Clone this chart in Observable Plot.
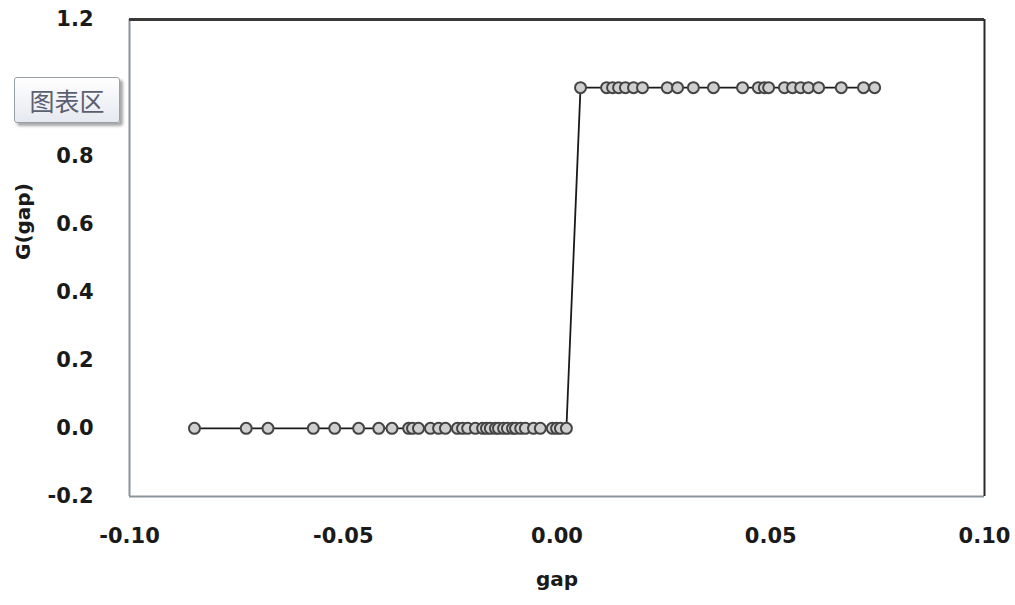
<!DOCTYPE html>
<html>
<head>
<meta charset="utf-8">
<script src="https://cdn.jsdelivr.net/npm/d3@7"></script>
<script src="https://cdn.jsdelivr.net/npm/@observablehq/plot@0.6"></script>
<style>
  html, body { margin: 0; padding: 0; background: #fff; }
  #wrap { position: relative; width: 1015px; height: 605px; overflow: hidden; }
  #tip {
    position: absolute; left: 14px; top: 77px; width: 106px; height: 46px;
    box-sizing: border-box; border: 1.5px solid #9aa0a8; border-radius: 3px;
    background: linear-gradient(#ffffff, #e6e9f0);
    box-shadow: 3px 3px 3px rgba(0,0,0,0.35);
    font-family: "Noto Sans CJK SC", sans-serif; font-size: 25px; color: #5a6070;
    line-height: 44px; text-align: center; letter-spacing: 0px;
  }
</style>
</head>
<body>
<div id="wrap"></div>
<script>
// gap values (x) and G(gap) values (y)
const gapLow = [-0.0848, -0.0727, -0.0676, -0.0570, -0.0520, -0.0464, -0.0417, -0.0386,
  -0.0347, -0.0338, -0.0324, -0.0296, -0.0277, -0.0261, -0.0233, -0.0221, -0.0209,
  -0.0191, -0.0174, -0.0165, -0.0156, -0.0144, -0.0137, -0.0125, -0.0116, -0.0104,
  -0.0097, -0.0085, -0.0074, -0.0055, -0.0039, -0.0011, -0.0001, 0.0008, 0.0022];
const gLow = gapLow.map(() => 0);
const gapHigh = [0.0055, 0.0116, 0.0130, 0.0144, 0.0160, 0.0179, 0.0200, 0.0258, 0.0282,
  0.0319, 0.0366, 0.0434, 0.0471, 0.0485, 0.0495, 0.0532, 0.0551, 0.0570, 0.0588,
  0.0612, 0.0665, 0.0717, 0.0743];
const gHigh = gapHigh.map(() => 1);
const xTicks = [-0.10, -0.05, 0.00, 0.05, 0.10];
// the 1.0 label is hidden behind the "图表区" popup in the reference
const yTicks = [-0.2, 0.0, 0.2, 0.4, 0.6, 0.8, 1.2];
const xTitle = "gap";
const yTitle = "G(gap)";
const popupLabel = "图表区";

const data = [
  ...gapLow.map((g, i) => ({gap: g, G: gLow[i]})),
  ...gapHigh.map((g, i) => ({gap: g, G: gHigh[i]}))
];

const chart = Plot.plot({
  width: 1015,
  height: 605,
  marginLeft: 129,
  marginRight: 31,
  marginTop: 19,
  marginBottom: 109,
  style: {fontFamily: "DejaVu Sans", fontSize: "21px", fontWeight: "bold", color: "#1a1a1a", background: "#fff"},
  x: {domain: [-0.1, 0.1]},
  y: {domain: [-0.2, 1.2]},
  marks: [
    Plot.axisX({ticks: xTicks, tickFormat: d => d.toFixed(2), tickSize: 0, tickPadding: 32, label: null}),
    Plot.axisY({ticks: yTicks, tickFormat: d => d.toFixed(1), tickSize: 0, tickPadding: 36, label: null}),
    Plot.ruleX([-0.1], {stroke: "#8c949c", strokeWidth: 2}),
    Plot.ruleY([-0.2], {stroke: "#8c949c", strokeWidth: 2}),
    Plot.ruleY([1.2], {stroke: "#3a3a3a", strokeWidth: 3}),
    Plot.ruleX([0.1], {stroke: "#2a2a2a", strokeWidth: 2}),
    Plot.line(data, {x: "gap", y: "G", stroke: "#1a1a1a", strokeWidth: 1.8}),
    Plot.dot(data, {x: "gap", y: "G", r: 5.5, stroke: "#444", strokeWidth: 2, fill: "#cfcfcf"}),
    Plot.text([xTitle], {text: d => d, frameAnchor: "bottom", dy: 89, fontSize: 20, fontWeight: "bold", fill: "#1a1a1a"}),
    Plot.text([yTitle], {text: d => d, frameAnchor: "left", dx: -106, dy: 2, rotate: -90, fontSize: 20, fontWeight: "bold", fill: "#1a1a1a"})
  ]
});

const wrap = document.getElementById("wrap");
wrap.appendChild(chart);
const tip = document.createElement("div");
tip.id = "tip";
tip.textContent = popupLabel;
wrap.appendChild(tip);
</script>
</body>
</html>
